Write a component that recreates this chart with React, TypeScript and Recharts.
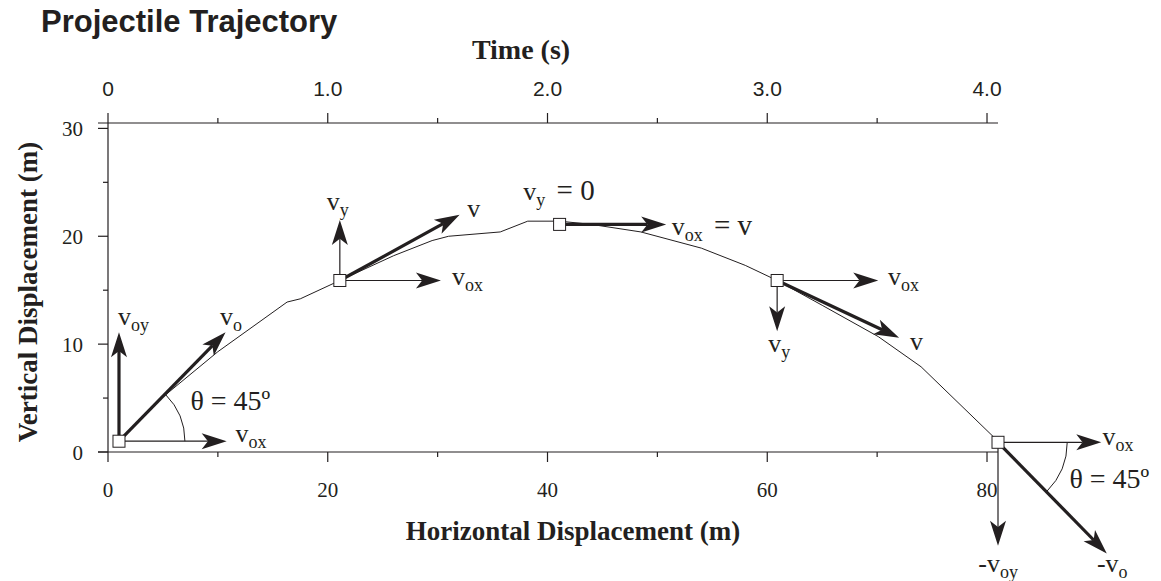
import React from 'react';
import { ComposedChart, Line, Scatter, XAxis, YAxis, ReferenceLine, ReferenceDot } from 'recharts';

const INK = '#231f20';
const SERIF = '"Liberation Serif", "Times New Roman", serif';
const SANS = '"Liberation Sans", Arial, Helvetica, sans-serif';

// trajectory (m)
const pathX = [1, 5, 10, 16.3, 17.5, 21.1, 26, 29.5, 31, 35.7, 38.2, 41.1, 44, 48.5, 54, 58, 60.9, 65, 70.1, 74, 81];
const pathY = [1, 5.1, 9.3, 13.9, 14.2, 15.9, 18.2, 19.6, 20.0, 20.4, 21.4, 21.4, 21.1, 20.4, 18.9, 17.3, 15.9, 13.6, 10.7, 7.9, 1];

// square markers on the path
const markerX = [1, 21.1, 41.1, 60.9, 81];
const markerY = [1, 15.9, 21.1, 15.9, 0.9];

// velocity vectors [x1, y1, x2, y2] in data units
const boldArrows = [
  [1, 1, 1, 11.1],
  [1, 1, 10.7, 11.1],
  [21.1, 15.9, 32.0, 22.0],
  [41.1, 21.1, 50.8, 21.1],
  [60.9, 15.9, 72.0, 10.6],
  [81, 0.9, 90.9, -9.4],
];
const thinArrows = [
  [1, 1, 10.8, 1],
  [21.1, 15.9, 21.1, 21.5],
  [21.1, 15.9, 30.3, 15.9],
  [60.9, 15.9, 70.1, 15.9],
  [60.9, 15.9, 60.9, 11.2],
  [81, 0.9, 90.4, 0.9],
  [81, 0.9, 81, -8.7],
];

// angle arcs: centre and start of arc [cx, cy, sx, sy]
const upArcs = [[1, 1, 7.0, 1]];
const downArcs = [[81, 0.9, 87.3, 0.9]];

const vectorLabels = [
  { x: 0.9, y: 11.8, pre: '', sub: 'oy', post: '' },
  { x: 10.2, y: 11.8, pre: '', sub: 'o', post: '' },
  { x: 11.6, y: 0.93, pre: '', sub: 'ox', post: '' },
  { x: 19.9, y: 22.4, pre: '', sub: 'y', post: '' },
  { x: 32.7, y: 21.8, pre: '', sub: '', post: '' },
  { x: 31.3, y: 15.5, pre: '', sub: 'ox', post: '' },
  { x: 37.8, y: 23.4, pre: '', sub: 'y', post: ' = 0' },
  { x: 51.3, y: 20.1, pre: '', sub: 'ox', post: ' = v' },
  { x: 71.0, y: 15.5, pre: '', sub: 'ox', post: '' },
  { x: 60.1, y: 9.3, pre: '', sub: 'y', post: '' },
  { x: 73.0, y: 9.5, pre: '', sub: '', post: '' },
  { x: 90.5, y: 0.65, pre: '', sub: 'ox', post: '' },
  { x: 79.2, y: -11.1, pre: '-', sub: 'oy', post: '' },
  { x: 90.0, y: -11.1, pre: '-', sub: 'o', post: '' },
];
const angleLabels = [
  { x: 7.5, y: 3.9, text: 'θ = 45º' },
  { x: 87.5, y: -3.3, text: 'θ = 45º' },
];

const xTicks = [0, 10, 20, 30, 40, 50, 60, 70, 80];
const xLabelTicks = [0, 20, 40, 60, 80];
const tTicks = [0, 0.5, 1, 1.5, 2, 2.5, 3, 3.5, 4];
const tLabelTicks = [0, 1, 2, 3, 4];
const yTicks = [0, 5, 10, 15, 20, 25, 30];
const yLabelTicks = [0, 10, 20, 30];

const trajectory = pathX.map((x, i) => ({ x, y: pathY[i] }));
const markers = markerX.map((x, i) => ({ x, y: markerY[i] }));

const BottomTick = (props: any) => {
  const { x, y, payload } = props;
  const major = xLabelTicks.includes(payload.value);
  return (
    <g>
      <line x1={x} x2={x} y1={y} y2={y + (major ? 10 : 5)} stroke={INK} strokeWidth={1.2} />
      {major && (
        <text x={x} y={y + 45} textAnchor="middle" fontFamily={SERIF} fontSize={21} fill={INK}>
          {payload.value}
        </text>
      )}
    </g>
  );
};

const TopTick = (props: any) => {
  const { x, y, payload } = props;
  const major = tLabelTicks.includes(payload.value);
  return (
    <g>
      <line x1={x} x2={x} y1={y} y2={y - (major ? 10 : 5)} stroke={INK} strokeWidth={1.2} />
      {major && (
        <text x={x} y={y - 27} textAnchor="middle" fontFamily={SANS} fontSize={21} fill={INK}>
          {payload.value === 0 ? '0' : payload.value.toFixed(1)}
        </text>
      )}
    </g>
  );
};

const LeftTick = (props: any) => {
  const { x, y, payload } = props;
  const major = yLabelTicks.includes(payload.value);
  return (
    <g>
      <line x1={x + 10 - (major ? 10 : 5)} x2={x + 10} y1={y} y2={y} stroke={INK} strokeWidth={1.2} />
      {major && (
        <text x={x - 15} y={y + 8} textAnchor="end" fontFamily={SERIF} fontSize={21} fill={INK}>
          {payload.value}
        </text>
      )}
    </g>
  );
};

const makeArrow = (width: number) => (p: any) => {
  const { x1, y1, x2, y2 } = p;
  const len = Math.hypot(x2 - x1, y2 - y1) || 1;
  const ux = (x2 - x1) / len;
  const uy = (y2 - y1) / len;
  const headLen = 25;
  const half = 8;
  const bx = x2 - ux * headLen;
  const by = y2 - uy * headLen;
  const nx = x2 - ux * headLen * 0.75;
  const ny = y2 - uy * headLen * 0.75;
  return (
    <g>
      <line x1={x1} y1={y1} x2={nx} y2={ny} stroke={INK} strokeWidth={width} />
      <polygon
        points={`${x2},${y2} ${bx - uy * half},${by + ux * half} ${nx},${ny} ${bx + uy * half},${by - ux * half}`}
        fill={INK}
      />
    </g>
  );
};

const makeArc = (dir: number) => (p: any) => {
  const { x1, y1, x2, y2 } = p;
  const r = Math.hypot(x2 - x1, y2 - y1);
  const a = (dir * Math.PI) / 4;
  const ex = x1 + r * Math.cos(a);
  const ey = y1 + r * Math.sin(a);
  return <path d={`M${x2},${y2} A${r},${r} 0 0 ${dir > 0 ? 1 : 0} ${ex},${ey}`} fill="none" stroke={INK} strokeWidth={1} />;
};

const vectorText = (l: any) => (p: any) => (
  <text x={p.cx} y={p.cy} fontFamily={SERIF} fontSize={26} fill={INK}>
    {l.pre}v
    {l.sub && (
      <tspan fontSize={18} dy={6}>
        {l.sub}
      </tspan>
    )}
    {l.post && (
      <tspan fontSize={29} dy={l.sub ? -6 : 0} dx={4}>
        {l.post}
      </tspan>
    )}
  </text>
);

const angleText = (t: string) => (p: any) => (
  <text x={p.cx} y={p.cy} fontFamily={SERIF} fontSize={28} fill={INK}>
    {t}
  </text>
);

const boxShape = (p: any) => (
  <rect x={p.cx - 6} y={p.cy - 6} width={12} height={12} fill="#fff" stroke={INK} strokeWidth={1} />
);

export default function App() {
  return (
    <div style={{ position: 'absolute', left: 0, top: 0, width: 1161, height: 581, background: '#fff' }}>
      <ComposedChart
        width={1161}
        height={581}
        data={trajectory}
        margin={{ top: 83, right: 163, bottom: 69, left: 38 }}
      >
        <XAxis
          xAxisId="x"
          type="number"
          dataKey="x"
          domain={[-0.91, 81]}
          ticks={xTicks}
          interval={0}
          height={60}
          tickSize={0}
          tickMargin={0}
          tickLine={false}
          axisLine={{ stroke: INK, strokeWidth: 1.2 }}
          tick={<BottomTick />}
        />
        <XAxis
          xAxisId="t"
          orientation="top"
          type="number"
          dataKey="t"
          domain={[-0.0455, 4.05]}
          ticks={tTicks}
          interval={0}
          height={40}
          tickSize={0}
          tickMargin={0}
          tickLine={false}
          axisLine={{ stroke: INK, strokeWidth: 1.2 }}
          tick={<TopTick />}
          allowDataOverflow
        />
        <YAxis
          type="number"
          dataKey="y"
          domain={[0, 30.5]}
          ticks={yTicks}
          interval={0}
          width={60}
          tickSize={0}
          tickMargin={0}
          tickLine={false}
          axisLine={false}
          tick={<LeftTick />}
        />
        <ReferenceLine xAxisId="x" x={0} stroke={INK} strokeWidth={1.2} />
        <Line
          xAxisId="x"
          type="linear"
          dataKey="y"
          stroke={INK}
          strokeWidth={1}
          dot={false}
          isAnimationActive={false}
        />
        {upArcs.map((a, i) => (
          <ReferenceLine
            key={`ua${i}`}
            xAxisId="x"
            segment={[{ x: a[0], y: a[1] }, { x: a[2], y: a[3] }]}
            ifOverflow="visible"
            shape={makeArc(-1)}
          />
        ))}
        {downArcs.map((a, i) => (
          <ReferenceLine
            key={`da${i}`}
            xAxisId="x"
            segment={[{ x: a[0], y: a[1] }, { x: a[2], y: a[3] }]}
            ifOverflow="visible"
            shape={makeArc(1)}
          />
        ))}
        {thinArrows.map((a, i) => (
          <ReferenceLine
            key={`ta${i}`}
            xAxisId="x"
            segment={[{ x: a[0], y: a[1] }, { x: a[2], y: a[3] }]}
            ifOverflow="visible"
            shape={makeArrow(1.2)}
          />
        ))}
        {boldArrows.map((a, i) => (
          <ReferenceLine
            key={`ba${i}`}
            xAxisId="x"
            segment={[{ x: a[0], y: a[1] }, { x: a[2], y: a[3] }]}
            ifOverflow="visible"
            shape={makeArrow(3.2)}
          />
        ))}
        <Scatter xAxisId="x" data={markers} dataKey="y" shape={boxShape} isAnimationActive={false} />
        {vectorLabels.map((l, i) => (
          <ReferenceDot key={`vl${i}`} xAxisId="x" x={l.x} y={l.y} ifOverflow="visible" shape={vectorText(l)} />
        ))}
        {angleLabels.map((l, i) => (
          <ReferenceDot key={`al${i}`} xAxisId="x" x={l.x} y={l.y} ifOverflow="visible" shape={angleText(l.text)} />
        ))}
      </ComposedChart>
      <svg
        width={1161}
        height={581}
        style={{ position: 'absolute', left: 0, top: 0, pointerEvents: 'none' }}
      >
        <text x={41} y={32} fontFamily={SANS} fontWeight="bold" fontSize={31} fill={INK}>
          Projectile Trajectory
        </text>
        <text x={521} y={59} textAnchor="middle" fontFamily={SERIF} fontWeight="bold" fontSize={28} fill={INK}>
          Time (s)
        </text>
        <text x={573} y={540} textAnchor="middle" fontFamily={SERIF} fontWeight="bold" fontSize={27} fill={INK}>
          Horizontal Displacement (m)
        </text>
        <text
          x={37}
          y={292}
          transform="rotate(-90 37 292)"
          textAnchor="middle"
          fontFamily={SERIF}
          fontWeight="bold"
          fontSize={27}
          fill={INK}
        >
          Vertical Displacement (m)
        </text>
      </svg>
    </div>
  );
}
